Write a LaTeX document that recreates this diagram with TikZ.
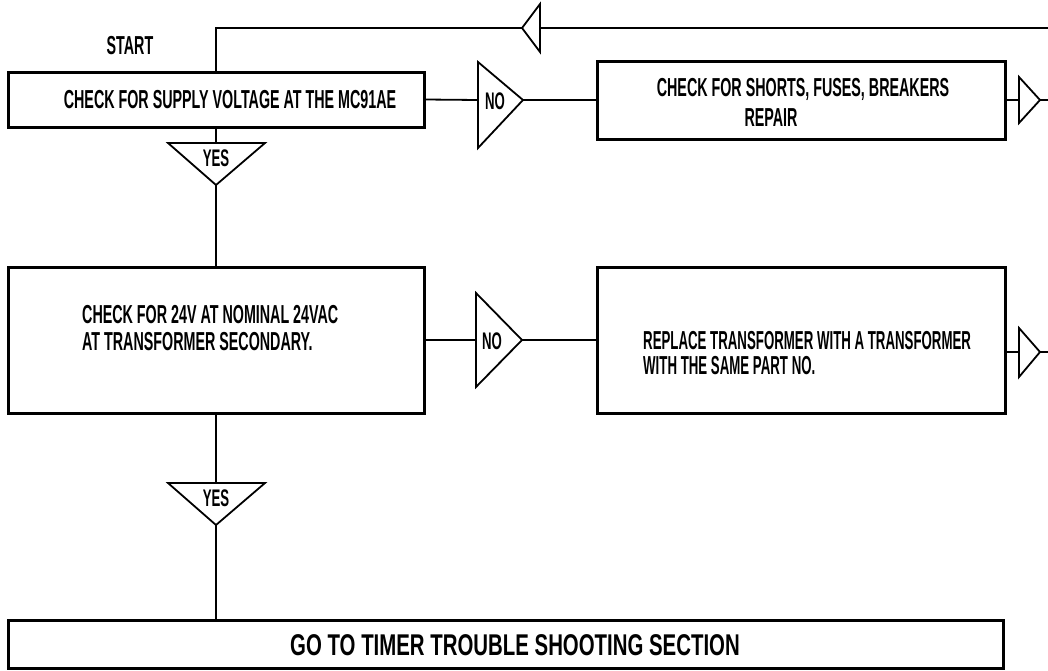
\documentclass[tikz,border=0pt]{standalone}
\usepackage{fontspec}
\newfontfamily\plotfont[FakeStretch=0.55]{Liberation Sans}
\newfontfamily\plotnarrow[FakeStretch=0.51]{Liberation Sans}
\newfontfamily\plotwide[FakeStretch=0.68]{Liberation Sans}
\begin{document}
\begin{tikzpicture}[x=1pt,y=-1pt,
  box/.style={draw, line width=3pt, inner sep=0pt, anchor=center},
  conn/.style={line width=1.8pt},
  tri/.style={line width=1.8pt, line join=miter},
  txt/.style={inner sep=0pt, font=\plotfont\bfseries\fontsize{26}{28}\selectfont},
  lbl/.style={inner sep=0pt, font=\plotfont\bfseries\fontsize{24}{26}\selectfont}]
\useasboundingbox (0,0) rectangle (1048,670);

% boxes
\node[box, minimum width=416pt, minimum height=55pt] (b1) at (216,99.5) {};
\node[box, minimum width=408pt, minimum height=78pt] (b2) at (801,100) {};
\node[box, minimum width=416pt, minimum height=146pt] (b3) at (216,340) {};
\node[box, minimum width=408pt, minimum height=146pt] (b4) at (801,340) {};
\node[box, minimum width=995pt, minimum height=48pt] (b5) at (505.5,644) {};

% texts
\node[txt] (start) at (130,46) {START};
\node[txt] (t1) at (230,100) {CHECK FOR SUPPLY VOLTAGE AT THE MC91AE};
\node[txt] (t2a) at (803,89) {CHECK FOR SHORTS, FUSES, BREAKERS};
\node[txt] (t2b) at (771,118) {REPAIR};
\node[txt, anchor=west, align=left, font=\plotfont\bfseries\fontsize{26}{27}\selectfont] (t3) at (82,328) {CHECK FOR 24V AT NOMINAL 24VAC\\AT TRANSFORMER SECONDARY.};
\node[txt, anchor=west, align=left, font=\plotnarrow\bfseries\fontsize{26}{25}\selectfont] (t4) at (643,353) {REPLACE TRANSFORMER WITH A TRANSFORMER\\WITH THE SAME PART NO.};
\node[inner sep=0pt, font=\plotwide\bfseries\fontsize{30}{32}\selectfont] (t5) at (515,645) {GO TO TIMER TROUBLE SHOOTING SECTION};

% loop-back triangle (pointing left)
\coordinate (lt) at (522,28);
\coordinate (la) at (540,4);
\coordinate (lb) at (540,52);
\coordinate (lin) at (540,28);
\coordinate (lend) at (1048,28);
\draw[tri] (lt) -- (la) -- (lb) -- cycle;
\draw[conn] (lend) -- (lin);
\draw[conn] (lt) -| (b1.north);

% NO triangle 1
\coordinate (n1a) at (478,62);
\coordinate (n1b) at (478,148);
\coordinate (n1t) at (523,100);
\coordinate (n1in) at (478,100);
\draw[tri] (n1a) -- (n1t) -- (n1b) -- cycle;
\node[lbl] (no1) at (495,101) {NO};
\draw[conn] (b1.east) -- (n1in);
\draw[conn] (n1t) -- (n1t -| b2.west);

% right triangle 1
\coordinate (r1in) at (1019,100);
\coordinate (r1a) at (1019,77);
\coordinate (r1b) at (1019,123);
\coordinate (r1t) at (1040,100);
\coordinate (r1end) at (1048,100);
\draw[conn] (b2.east) -- (r1in);
\draw[tri] (r1a) -- (r1t) -- (r1b) -- cycle;
\draw[conn] (r1t) -- (r1end);

% YES triangle 1
\coordinate (y1a) at (168,143);
\coordinate (y1b) at (265,143);
\coordinate (y1t) at (216,185);
\coordinate (y1in) at (216,143);
\draw[tri] (y1a) -- (y1b) -- (y1t) -- cycle;
\node[lbl] (yes1) at (216,158) {YES};
\draw[conn] (b1.south) -- (y1in);
\draw[conn] (y1t) -- (b3.north);

% NO triangle 2
\coordinate (n2a) at (476,293);
\coordinate (n2b) at (476,387);
\coordinate (n2t) at (522,340);
\coordinate (n2in) at (476,340);
\draw[tri] (n2a) -- (n2t) -- (n2b) -- cycle;
\node[lbl] (no2) at (492,341) {NO};
\draw[conn] (b3.east) -- (n2in);
\draw[conn] (n2t) -- (b4.west);

% right triangle 2
\coordinate (r2in) at (1019,352);
\coordinate (r2a) at (1019,328);
\coordinate (r2b) at (1019,377);
\coordinate (r2t) at (1040,352);
\coordinate (r2end) at (1048,352);
\draw[conn] (r2in -| b4.east) -- (r2in);
\draw[tri] (r2a) -- (r2t) -- (r2b) -- cycle;
\draw[conn] (r2t) -- (r2end);

% YES triangle 2
\coordinate (y2a) at (168,483);
\coordinate (y2b) at (265,483);
\coordinate (y2t) at (216,525);
\coordinate (y2in) at (216,483);
\draw[tri] (y2a) -- (y2b) -- (y2t) -- cycle;
\node[lbl] (yes2) at (216,498) {YES};
\draw[conn] (b3.south) -- (y2in);
\draw[conn] (y2t) -- (y2t |- b5.north);
\end{tikzpicture}
\end{document}
